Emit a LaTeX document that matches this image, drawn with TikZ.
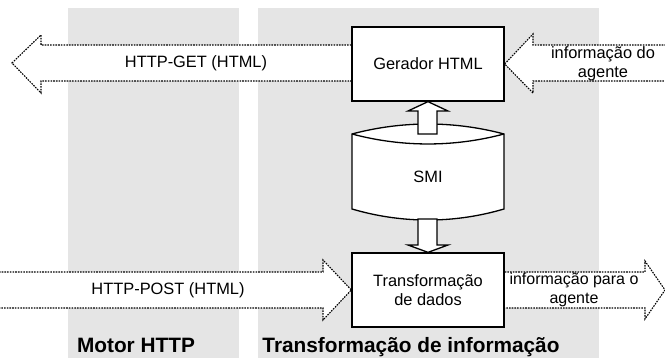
\documentclass[tikz,border=0pt]{standalone}
\usepackage{fontspec}
\setmainfont{Liberation Sans}
\definecolor{panelgray}{RGB}{229,229,229}
\begin{document}
\begin{tikzpicture}[x=1pt,y=-1pt,
  panel/.style={fill=panelgray,draw=none},
  box/.style={draw=black,line width=1.3pt,fill=white,inner sep=0pt,
    minimum width=152pt,align=center,font=\fontsize{16.4}{19.5}\selectfont},
  flow/.style={draw=black,fill=white,line width=1.1pt,dash pattern=on 1.6pt off 1.1pt},
  blockarrow/.style={draw=black,fill=white,line width=1.3pt,line join=miter},
  lbl/.style={align=center,inner sep=0pt,font=\fontsize{16.4}{19.5}\selectfont},
  title/.style={anchor=base,inner sep=0pt,font=\fontsize{20.8}{24}\selectfont\bfseries}]
\useasboundingbox (0,0) rectangle (665,358);
% panels
\fill[panelgray] (68,8) rectangle (239,358);
\fill[panelgray] (258,8) rectangle (599,358);
% boxes (positions)
\node[box,minimum height=74pt] (gen) at (428,64) {Gerador HTML};
\node[box,minimum height=74pt] (trans) at (428,290) {Transforma\c{c}\~ao\\de dados};
% HTTP-GET arrow
\fill[white] (gen.west |- 0,45) -- (41,45) -- (41,35) -- (12,63) -- (41,93) -- (41,81) -- (gen.west |- 0,81) -- cycle;
\draw[flow,fill=none] (gen.west |- 0,45) -- (41,45) -- (41,35) -- (12,63) -- (41,93) -- (41,81) -- (gen.west |- 0,81);
\node[lbl] (get) at (196,63) {HTTP-GET (HTML)};
% informacao do agente arrow
\fill[white] (666,45) -- (533,45) -- (533,34) -- (gen.east) -- (533,93) -- (533,81) -- (666,81) -- cycle;
\draw[flow,fill=none] (666,45) -- (533,45) -- (533,34) -- (gen.east) -- (533,93) -- (533,81) -- (666,81);
\node[lbl] (infoin) at (603,64) {informa\c{c}\~ao do\\agente};
% HTTP-POST arrow
\fill[white] (-1,272) -- (323,272) -- (323,260) -- (trans.west) -- (323,320) -- (323,308) -- (-1,308) -- cycle;
\draw[flow,fill=none] (-1,272) -- (323,272) -- (323,260) -- (trans.west) -- (323,320) -- (323,308) -- (-1,308);
\node[lbl] (post) at (168,290) {HTTP-POST (HTML)};
% informacao para o agente arrow
\fill[white] (trans.east |- 0,272) -- (645,272) -- (645,261) -- (665,290) -- (645,319) -- (645,308) -- (trans.east |- 0,308) -- cycle;
\draw[flow,fill=none] (trans.east |- 0,272) -- (645,272) -- (645,261) -- (665,290) -- (645,319) -- (645,308) -- (trans.east |- 0,308);
\node[lbl,font=\fontsize{16}{19.5}\selectfont] (infoout) at (574,290) {informa\c{c}\~ao para o\\agente};
% redraw boxes on top
\node[box,minimum height=74pt] at (gen) {Gerador HTML};
\node[box,minimum height=74pt] at (trans) {Transforma\c{c}\~ao\\de dados};
% SMI cylinder
\filldraw[fill=white,line width=1.3pt]
  (352,134) .. controls (402,120.7) and (454,120.7) .. (504,134)
  -- (504,209) .. controls (454,223.7) and (402,223.7) .. (352,209) -- cycle;
\draw[line width=1.3pt] (352,134) .. controls (402,147.3) and (454,147.3) .. (504,134);
\node[lbl] (smi) at (428,177) {SMI};
% block arrow up (SMI -> Gerador)
\filldraw[blockarrow] (418,134) -- (418,111) -- (408,111) -- (gen.south) -- (448,111) -- (437,111) -- (437,134) -- cycle;
% block arrow down (SMI -> Transformacao)
\filldraw[blockarrow] (418,219) -- (418,245) -- (408,245) -- (trans.north) -- (448,245) -- (437,245) -- (437,219) -- cycle;
% titles
\node[title] (motor) at (136,353) {Motor HTTP};
\node[title] (tinfo) at (411,353) {Transforma\c{c}\~ao de informa\c{c}\~ao};
\end{tikzpicture}
\end{document}
